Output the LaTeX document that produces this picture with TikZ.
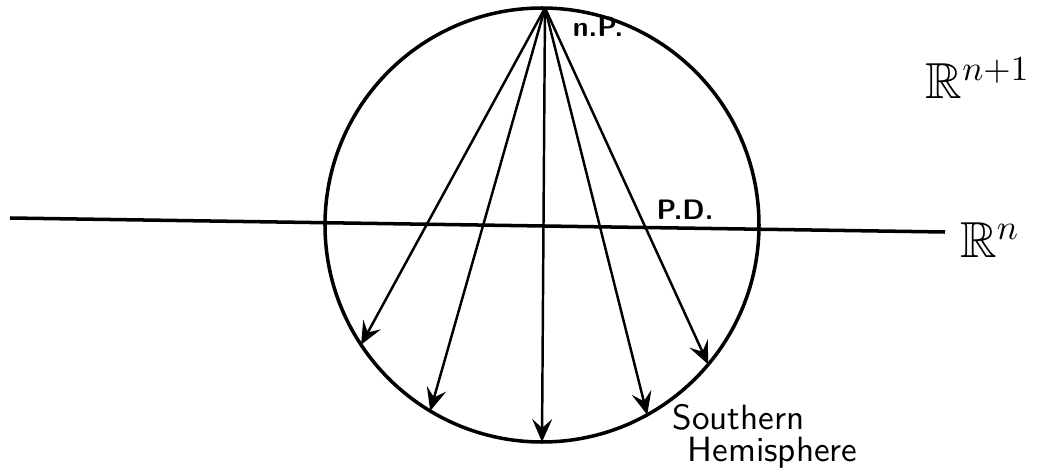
\documentclass[tikz,border=0pt]{standalone}
\usepackage{amsmath}
\usepackage{amssymb}
\usepackage{tikz}
\usetikzlibrary{arrows.meta,calc}
\tikzset{
  sph/.style={draw=black, line width=1pt},                                  % sphere
  pl/.style={draw=black, line width=1pt},                                   % plane R^n
  pr/.style={draw=black, line width=0.7pt,
             -{Stealth[length=2.3mm, width=2mm, inset=0.9mm]}},            % projection ray
  lbl/.style={font=\sffamily\bfseries\footnotesize, inner sep=1pt},
  spc/.style={font=\Large, inner sep=1pt},
}

\begin{document}
\begin{tikzpicture}
  \useasboundingbox (0,0) rectangle (10.47,4.70);
  \coordinate (c) at (5.42,2.45);
  \draw[sph] (c) circle (2.17);
  \coordinate (np) at (5.45,4.62);
  \coordinate (wl) at (0.10,2.52);
  \coordinate (wr) at (9.45,2.38);
  \draw[pl] (wl) -- (wr);
  \foreach \a/\k in {213.5/1,239/2,270/3,299/4,320/5}
    \coordinate (s\k) at ($(c)+(\a:2.17)$);
  \foreach \k in {1,...,5}
    \draw[pr] (np) -- (s\k);
  \node[lbl] (npl) at (5.98,4.43) {n.P.};
  \node[lbl] (pd) at (6.85,2.60) {P.D.};
  \node[spc] (rn1) at (9.78,3.92) {$\mathbb{R}^{n+1}$};
  \node[spc] (rn) at (9.90,2.30) {$\mathbb{R}^{n}$};
  \node[anchor=north west, align=left, font=\sffamily, inner sep=0pt] (sh) at (6.72,0.66)
    {Southern\\[-3pt]\hspace*{1.5mm}Hemisphere};
\end{tikzpicture}
\end{document}
